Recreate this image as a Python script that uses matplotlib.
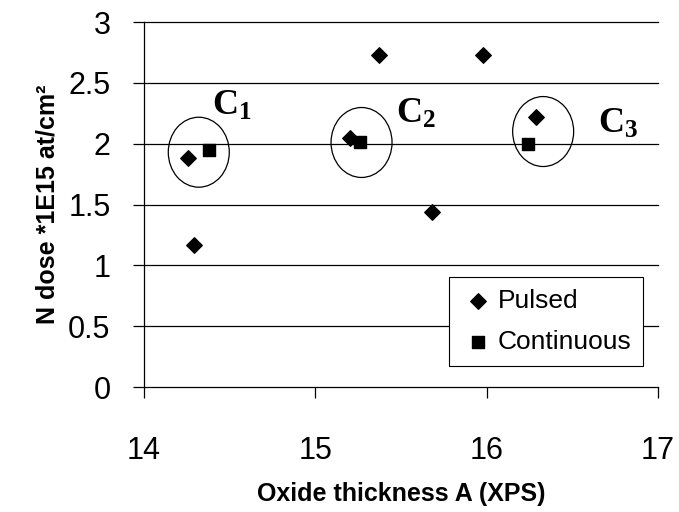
import matplotlib
matplotlib.use("Agg")
import matplotlib.pyplot as plt
from matplotlib.patches import Ellipse

# data
pulsed_x = [14.26, 14.29, 15.20, 15.37, 15.68, 15.98, 16.29]
pulsed_y = [1.88, 1.17, 2.05, 2.73, 1.44, 2.73, 2.22]
cont_x = [14.38, 15.26, 16.24]
cont_y = [1.95, 2.01, 2.00]

# cluster circles and their labels
clusters = ["$C_1$", "$C_2$", "$C_3$"]
circle_x = [14.32, 15.27, 16.33]
circle_y = [1.93, 2.01, 2.10]
label_x = [14.40, 15.47, 16.65]
label_y = [2.24, 2.17, 2.09]

plt.rcParams['font.family'] = ['Liberation Sans', 'DejaVu Sans']
plt.rcParams['mathtext.fontset'] = 'custom'
plt.rcParams['mathtext.rm'] = 'Liberation Serif:bold'
plt.rcParams['mathtext.it'] = 'Liberation Serif:bold'
plt.rcParams['mathtext.bf'] = 'Liberation Serif:bold'

fig = plt.figure(figsize=(6.79, 5.12), dpi=100)
ax = fig.add_axes([0.212, 0.244, 0.757, 0.713])

for v in [0.5, 1, 1.5, 2, 2.5, 3]:
    ax.axhline(v, color='black', lw=0.9, zorder=1, clip_on=False)

ax.scatter(pulsed_x, pulsed_y, marker='D', s=62, color='black', label='Pulsed', zorder=3)
ax.scatter(cont_x, cont_y, marker='s', s=80, color='black', label='Continuous', zorder=3)

for cx, cy in zip(circle_x, circle_y):
    ax.add_patch(Ellipse((cx, cy), 0.356, 0.575, fill=False, edgecolor='black', lw=0.9, zorder=2))

for name, tx, ty in zip(clusters, label_x, label_y):
    ax.text(tx, ty, name, fontsize=26, ha='left', va='baseline', zorder=4)

ax.set_xlim(14, 17)
ax.set_ylim(0, 3)
ax.set_xticks([14, 15, 16, 17])
ax.set_yticks([0, 0.5, 1, 1.5, 2, 2.5, 3])
ax.set_yticklabels(['0', '0.5', '1', '1.5', '2', '2.5', '3'])
ax.tick_params(axis='both', labelsize=22, length=8, width=0.9, color='black')
ax.tick_params(axis='x', pad=27)
ax.tick_params(axis='y', pad=16)

for s in ['top', 'right']:
    ax.spines[s].set_visible(False)
for s in ['left', 'bottom']:
    ax.spines[s].set_linewidth(0.9)

ax.set_xlabel('Oxide thickness A (XPS)', fontsize=18, fontweight='bold', labelpad=12)
ax.set_ylabel('N dose *1E15 at/cm²', fontsize=18, fontweight='bold', labelpad=6)

leg = ax.legend(loc='lower right', bbox_to_anchor=(0.971, 0.0575), fontsize=19,
                frameon=True, fancybox=False, edgecolor='black', framealpha=1,
                handletextpad=0.1, handlelength=1.3, borderpad=0.45, labelspacing=0.65,
                borderaxespad=0)
leg.get_frame().set_linewidth(0.8)

plt.savefig('out.png', dpi=100)
